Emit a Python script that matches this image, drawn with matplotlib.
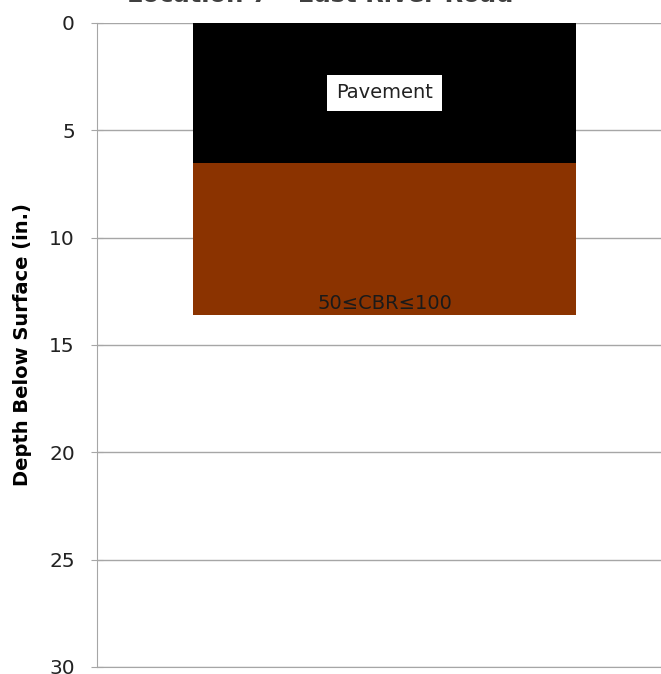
import numpy as np
import matplotlib.pyplot as plt

plt.rcParams['font.family'] = ['DejaVu Sans']

# layer data (depth in inches)
layers = ['Pavement', '50≤CBR≤100']
thickness = [6.5, 7.1]
colors = ['#000000', '#8B3300']
label_pos = ['center', 'bottom']

fig = plt.figure(figsize=(6.61, 6.74), dpi=100)
ax = fig.add_axes([97/661, 7/674, 575/661, 644/674])

bottom = 0
for name, t, c, lp in zip(layers, thickness, colors, label_pos):
    ax.bar(0, t, bottom=bottom, width=0.667, color=c, zorder=2)
    if lp == 'center':
        ax.text(0, bottom + t / 2, name, ha='center', va='center', fontsize=14,
                color='#222222', zorder=3,
                bbox=dict(facecolor='white', edgecolor='none', boxstyle='square,pad=0.45'))
    else:
        ax.text(0, bottom + t - 0.1, name, ha='center', va='bottom', fontsize=14,
                color='#1a1a1a', zorder=3)
    bottom += t

ax.set_xlim(-0.5, 0.5)
ax.set_ylim(30, 0)
ax.set_yticks(np.arange(0, 31, 5))
ax.set_xticks([])
ax.grid(True, axis='y', color='#a6a6a6', linewidth=1, zorder=0)
for s in ['top', 'right']:
    ax.spines[s].set_visible(False)
ax.spines['left'].set_color('#a6a6a6')
ax.spines['bottom'].set_color('#a6a6a6')
ax.tick_params(axis='y', length=8, direction='inout', color='#a6a6a6', labelsize=14.5,
               pad=12, labelcolor='#222222')
ax.set_ylabel('Depth Below Surface (in.)', fontsize=14, fontweight='bold', labelpad=12)

fig.text(0.484, 1 - 2/674, 'Location 7 – East River Road', ha='center', va='baseline',
         fontsize=17.5, fontweight='bold', color='#404040')

fig.savefig('out.png', dpi=100)
